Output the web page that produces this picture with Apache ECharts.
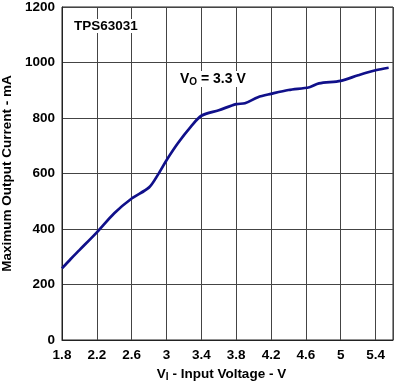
<!DOCTYPE html>
<html><head><meta charset="utf-8">
<script src="https://cdn.jsdelivr.net/npm/echarts@6/dist/echarts.min.js"></script>
<style>html,body{margin:0;padding:0;background:#fff}#c{width:395px;height:390px}</style>
</head><body><div id="c"></div>
<script>
const voltage = [1.8, 1.9, 2.0, 2.2, 2.4, 2.6, 2.8, 2.9, 3.0, 3.13, 3.28, 3.4, 3.6, 3.8, 3.9, 4.05, 4.2, 4.4, 4.64, 4.75, 5.0, 5.2, 5.4, 5.55];
const current = [258, 292, 324, 388, 457, 510, 550, 595, 648, 709, 769, 808, 828, 850, 853, 875, 887, 901, 911, 925, 934, 954, 972, 981];
const xTicks = [1.8, 2.2, 2.6, 3, 3.4, 3.8, 4.2, 4.6, 5, 5.4];
const yTicks = [0, 200, 400, 600, 800, 1000, 1200];

const font = 'Liberation Sans, Arial, sans-serif';
const chart = echarts.init(document.getElementById('c'));
chart.setOption({
  animation: false,
  grid: {left: 62, right: 2, top: 7, bottom: 50, show: true, borderColor: '#222', borderWidth: 1,
         containLabel: false, outerBoundsMode: 'none'},
  xAxis: {
    type: 'value', min: 1.8, max: 5.6, interval: 0.4,
    name: '{a|V}{s|I}{a| - Input Voltage - V}',
    nameLocation: 'middle', nameGap: 24,
    nameTextStyle: {padding: [0, 12, 0, 0], rich: {
      a: {fontFamily: font, fontWeight: 'bold', fontSize: 13.5, color: '#000'},
      s: {fontFamily: font, fontWeight: 'bold', fontSize: 10, color: '#000', verticalAlign: 'bottom', padding: [6, 0, 0, 0]}
    }},
    axisLine: {lineStyle: {color: '#222', width: 1}},
    axisTick: {show: false},
    splitLine: {show: true, lineStyle: {color: '#444', width: 1}},
    axisLabel: {
      fontFamily: font, fontWeight: 'bold', fontSize: 13.5, color: '#000', margin: 8,
      showMaxLabel: false,
      formatter: v => { const r = Math.round(v * 10) / 10; return xTicks.includes(r) ? String(r) : ''; }
    }
  },
  yAxis: {
    type: 'value', min: 0, max: 1200, interval: 200,
    name: 'Maximum Output Current - mA',
    nameLocation: 'middle', nameGap: 47,
    nameTextStyle: {fontFamily: font, fontWeight: 'bold', fontSize: 13.5, color: '#000'},
    axisLine: {show: true, lineStyle: {color: '#222', width: 1}},
    axisTick: {show: false},
    splitLine: {show: true, lineStyle: {color: '#444', width: 1}},
    axisLabel: {fontFamily: font, fontWeight: 'bold', fontSize: 13.5, color: '#000', margin: 7,
      formatter: v => yTicks.includes(v) ? String(v) : ''}
  },
  graphic: [
    {type: 'text', left: 74, top: 19, z: 10,
     style: {text: 'TPS63031', fontFamily: font, fontWeight: 'bold', fontSize: 13.5, fill: '#000', backgroundColor: '#fff'}},
    {type: 'text', left: 180, top: 71, z: 10,
     style: {text: '{a|V}{s|O}{a| = 3.3 V}', backgroundColor: '#fff',
       rich: {
         a: {fontFamily: font, fontWeight: 'bold', fontSize: 14, fill: '#000'},
         s: {fontFamily: font, fontWeight: 'bold', fontSize: 10, fill: '#000', padding: [6, 0, 0, 0]}
       }}}
  ],
  series: [{
    type: 'line', showSymbol: false, smooth: 0.3,
    lineStyle: {color: '#10108a', width: 2.7},
    data: voltage.map((v, i) => [v, current[i]])
  }]
});
</script></body></html>
